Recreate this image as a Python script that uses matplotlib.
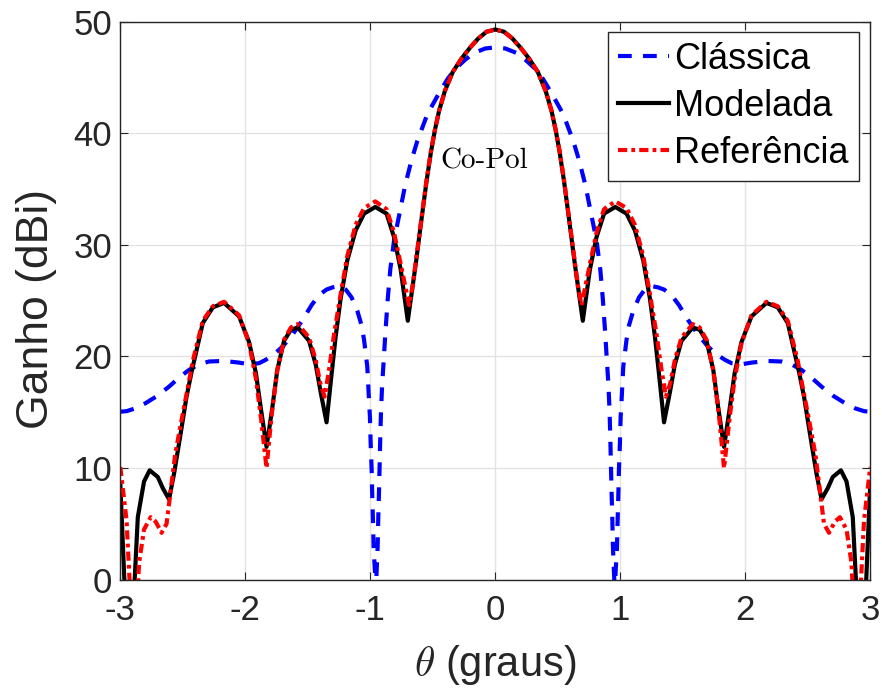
import matplotlib
matplotlib.use("Agg")
import matplotlib.pyplot as plt

# Classica (blue dashed)
theta_cla = [-3.00, -2.95, -2.88, -2.80, -2.70, -2.61, -2.53, -2.45, -2.37, -2.29,
             -2.17, -2.05, -1.97, -1.89, -1.837, -1.77, -1.70, -1.62, -1.54, -1.47,
             -1.41, -1.35, -1.30, -1.25, -1.197, -1.15, -1.104, -1.07, -1.05, -1.024,
             -1.01, -1.003, -0.997, -0.989, -0.984, -0.978, -0.973, -0.962, -0.957, -0.952,
             -0.941, -0.936, -0.930, -0.925, -0.920, -0.914, -0.905, -0.893, -0.88, -0.86,
             -0.84, -0.81, -0.77, -0.72, -0.67, -0.624, -0.544, -0.45, -0.38, -0.317,
             -0.24, -0.17, -0.08, 0.00,
             0.08, 0.17, 0.24, 0.317, 0.38, 0.45, 0.544, 0.624, 0.67, 0.72,
             0.77, 0.81, 0.84, 0.86, 0.88, 0.893, 0.905, 0.914, 0.920, 0.925,
             0.930, 0.936, 0.941, 0.952, 0.957, 0.962, 0.973, 0.978, 0.984, 0.989,
             0.997, 1.003, 1.01, 1.024, 1.05, 1.07, 1.104, 1.15, 1.197, 1.25,
             1.30, 1.35, 1.41, 1.47, 1.54, 1.62, 1.70, 1.77, 1.837, 1.89,
             1.97, 2.05, 2.17, 2.29, 2.37, 2.45, 2.53, 2.61, 2.70, 2.80,
             2.88, 2.95, 3.00]
gain_cla = [15.05, 15.1, 15.35, 15.8, 16.5, 17.3, 18.1, 18.8, 19.3, 19.55,
            19.6, 19.45, 19.3, 19.4, 19.7, 20.2, 20.9, 22.0, 23.3, 24.6,
            25.5, 26.0, 26.2, 26.3, 26.0, 25.3, 24.1, 22.8, 21.5, 19.1,
            16.0, 14.6, 12.2, 9.8, 7.4, 5.0, 2.7, 0.6, -20.0, 0.0,
            3.0, 5.6, 8.0, 10.4, 12.8, 15.2, 17.5, 19.6, 22.0, 25.2,
            27.8, 30.4, 32.6, 35.4, 37.6, 39.3, 41.7, 43.6, 44.9, 45.8,
            46.6, 47.2, 47.6, 47.7,
            47.6, 47.2, 46.6, 45.8, 44.9, 43.6, 41.7, 39.3, 37.6, 35.4,
            32.6, 30.4, 27.8, 25.2, 22.0, 19.6, 17.5, 15.2, 12.8, 10.4,
            8.0, 5.6, 3.0, 0.0, -20.0, 0.6, 2.7, 5.0, 7.4, 9.8,
            12.2, 14.6, 16.0, 19.1, 21.5, 22.8, 24.1, 25.3, 26.0, 26.3,
            26.2, 26.0, 25.5, 24.6, 23.3, 22.0, 20.9, 20.2, 19.7, 19.4,
            19.3, 19.45, 19.6, 19.55, 19.3, 18.8, 18.1, 17.3, 16.5, 15.8,
            15.35, 15.1, 15.05]

# Modelada (black solid)
theta_mod = [-3.00, -2.93, -2.86, -2.81, -2.765, -2.70, -2.66, -2.61, -2.57, -2.52,
             -2.47, -2.43, -2.34, -2.26, -2.17, -2.05, -1.97, -1.915, -1.875, -1.83,
             -1.784, -1.744, -1.69, -1.635, -1.58, -1.49, -1.437, -1.397, -1.35, -1.31,
             -1.277, -1.237, -1.184, -1.117, -1.05, -0.96, -0.87, -0.81, -0.757, -0.70,
             -0.67, -0.635, -0.595, -0.55, -0.515, -0.483, -0.45, -0.403, -0.34, -0.27,
             -0.20, -0.136, -0.07, 0.00,
             0.07, 0.136, 0.20, 0.27, 0.34, 0.403, 0.45, 0.483, 0.515, 0.55,
             0.595, 0.635, 0.67, 0.70, 0.757, 0.81, 0.87, 0.96, 1.05, 1.117,
             1.184, 1.237, 1.277, 1.31, 1.35, 1.397, 1.437, 1.49, 1.58, 1.635,
             1.69, 1.744, 1.784, 1.83, 1.875, 1.915, 1.97, 2.05, 2.17, 2.26,
             2.34, 2.43, 2.47, 2.52, 2.57, 2.61, 2.66, 2.70, 2.765, 2.81,
             2.86, 2.93, 3.00]
gain_mod = [8.6, -10.0, 5.6, 8.8, 9.8, 9.2, 8.2, 7.2, 9.5, 12.9,
            16.4, 18.6, 23.0, 24.4, 24.8, 23.6, 21.3, 18.5, 15.3, 11.9,
            15.4, 18.8, 21.4, 22.4, 22.6, 21.4, 19.3, 16.8, 14.1, 18.4,
            21.8, 25.2, 28.6, 31.3, 32.8, 33.4, 32.8, 30.7, 27.8, 23.2,
            25.6, 28.4, 31.9, 35.7, 38.3, 40.3, 42.0, 43.8, 45.5, 46.7,
            47.7, 48.5, 49.1, 49.3,
            49.1, 48.5, 47.7, 46.7, 45.5, 43.8, 42.0, 40.3, 38.3, 35.7,
            31.9, 28.4, 25.6, 23.2, 27.8, 30.7, 32.8, 33.4, 32.8, 31.3,
            28.6, 25.2, 21.8, 18.4, 14.1, 16.8, 19.3, 21.4, 22.6, 22.4,
            21.4, 18.8, 15.4, 11.9, 15.3, 18.5, 21.3, 23.6, 24.8, 24.4,
            23.0, 18.6, 16.4, 12.9, 9.5, 7.2, 8.2, 9.2, 9.8, 8.8,
            5.6, -10.0, 8.6]

# Referencia (red dash-dot)
theta_ref = [-3.00, -2.95, -2.89, -2.85, -2.81, -2.757, -2.717, -2.67, -2.63, -2.60,
             -2.56, -2.50, -2.46, -2.42, -2.34, -2.26, -2.17, -2.05, -1.97, -1.915,
             -1.875, -1.83, -1.79, -1.744, -1.69, -1.635, -1.58, -1.49, -1.437, -1.40,
             -1.365, -1.33, -1.29, -1.237, -1.184, -1.117, -1.05, -0.96, -0.87, -0.81,
             -0.757, -0.69, -0.66, -0.635, -0.595, -0.55, -0.515, -0.483, -0.45, -0.403,
             -0.34, -0.27, -0.20, -0.136, -0.07, 0.00,
             0.07, 0.136, 0.20, 0.27, 0.34, 0.403, 0.45, 0.483, 0.515, 0.55,
             0.595, 0.635, 0.66, 0.69, 0.757, 0.81, 0.87, 0.96, 1.05, 1.117,
             1.184, 1.237, 1.29, 1.33, 1.365, 1.40, 1.437, 1.49, 1.58, 1.635,
             1.69, 1.744, 1.79, 1.83, 1.875, 1.915, 1.97, 2.05, 2.17, 2.26,
             2.34, 2.42, 2.46, 2.50, 2.56, 2.60, 2.63, 2.67, 2.717, 2.757,
             2.81, 2.85, 2.89, 2.95, 3.00]
gain_ref = [10.1, 5.3, -8.0, 1.5, 4.5, 5.6, 5.2, 4.2, 5.0, 7.7,
            11.3, 14.9, 17.2, 19.6, 23.2, 24.5, 24.9, 23.7, 21.2, 18.0,
            14.5, 10.0, 14.7, 18.8, 21.5, 22.6, 22.9, 21.7, 19.7, 17.6,
            16.4, 18.8, 22.0, 25.6, 29.0, 31.8, 33.3, 33.9, 33.2, 31.1,
            28.3, 24.6, 26.4, 28.6, 32.0, 35.8, 38.4, 40.3, 42.0, 43.8,
            45.5, 46.7, 47.7, 48.5, 49.1, 49.3,
            49.1, 48.5, 47.7, 46.7, 45.5, 43.8, 42.0, 40.3, 38.4, 35.8,
            32.0, 28.6, 26.4, 24.6, 28.3, 31.1, 33.2, 33.9, 33.3, 31.8,
            29.0, 25.6, 22.0, 18.8, 16.4, 17.6, 19.7, 21.7, 22.9, 22.6,
            21.5, 18.8, 14.7, 10.0, 14.5, 18.0, 21.2, 23.7, 24.9, 24.5,
            23.2, 19.6, 17.2, 14.9, 11.3, 7.7, 5.0, 4.2, 5.2, 5.6,
            4.5, 1.5, -8.0, 5.3, 10.1]

xticks = [-3, -2, -1, 0, 1, 2, 3]
yticks = [0, 10, 20, 30, 40, 50]

plt.rcParams['font.family'] = ['Liberation Sans', 'DejaVu Sans']
plt.rcParams['mathtext.fontset'] = 'cm'

fig = plt.figure(figsize=(8.82, 7.0), dpi=100)
ax = fig.add_axes([0.1364, 0.1719, 0.8503, 0.7971])

ax.plot(theta_cla, gain_cla, color='#0000ff', lw=3.0, linestyle=(0, (3.3, 2.7)),
        label='Clássica')
ax.plot(theta_mod, gain_mod, color='black', lw=3.0, label='Modelada')
ax.plot(theta_ref, gain_ref, color='#ff0000', lw=3.0, linestyle=(0, (2.2, 1.0, 0.9, 1.0)),
        label='Referência')

ax.set_xlim(-3, 3)
ax.set_ylim(0, 50)
ax.set_xticks(xticks)
ax.set_yticks(yticks)
ax.set_xticklabels([str(t) for t in xticks])
ax.grid(True, color='#e3e3e3', lw=1.0)
ax.set_axisbelow(True)
for s in ax.spines.values():
    s.set_color('#262626')
    s.set_linewidth(1.0)
ax.tick_params(direction='in', length=6, width=0.8, top=True, right=True,
               labelsize=25, colors='#262626')
ax.tick_params(axis='x', pad=10)
ax.tick_params(axis='y', pad=6)

ax.set_xlabel(r'$\theta$ (graus)', fontsize=30, color='#262626', labelpad=12)
ax.set_ylabel('Ganho (dBi)', fontsize=32, color='#262626')
ax.yaxis.set_label_coords(-0.084, 0.485)

ax.text(-0.09, 37.5, 'Co-Pol', family='cmr10', fontsize=21, ha='center', va='center')

leg = ax.legend(loc='upper right', bbox_to_anchor=(0.985, 0.9815), borderaxespad=0,
                fontsize=26, fancybox=False, framealpha=1, edgecolor='#262626',
                handlelength=1.4, handletextpad=0.15, labelspacing=0.33,
                borderpad=0.28)
leg.get_frame().set_linewidth(1.0)

fig.savefig('out.png', dpi=100)
